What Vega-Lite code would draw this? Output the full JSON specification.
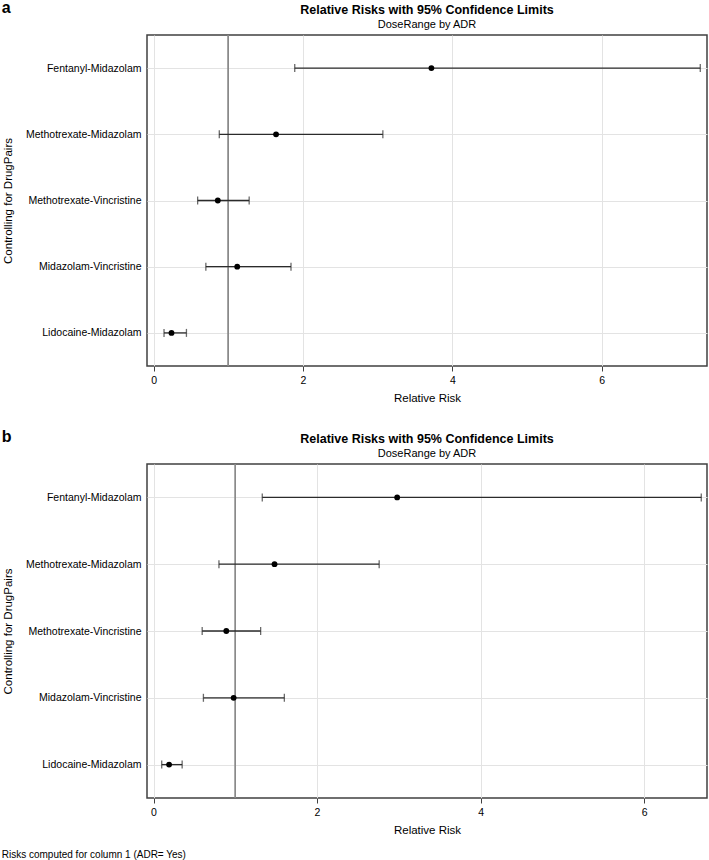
{
  "$schema": "https://vega.github.io/schema/vega-lite/v6.json",
  "padding": {"left": 1, "top": 0, "right": 1, "bottom": 0},
  "background": "white",
  "datasets": {
    "a": [
      {"pair": "Fentanyl-Midazolam", "rr": 3.72, "lower": 1.89, "upper": 7.32},
      {"pair": "Methotrexate-Midazolam", "rr": 1.64, "lower": 0.88, "upper": 3.07},
      {"pair": "Methotrexate-Vincristine", "rr": 0.86, "lower": 0.59, "upper": 1.28},
      {"pair": "Midazolam-Vincristine", "rr": 1.12, "lower": 0.70, "upper": 1.84},
      {"pair": "Lidocaine-Midazolam", "rr": 0.24, "lower": 0.14, "upper": 0.44}
    ],
    "b": [
      {"pair": "Fentanyl-Midazolam", "rr": 2.98, "lower": 1.33, "upper": 6.70},
      {"pair": "Methotrexate-Midazolam", "rr": 1.48, "lower": 0.80, "upper": 2.76},
      {"pair": "Methotrexate-Vincristine", "rr": 0.89, "lower": 0.595, "upper": 1.31},
      {"pair": "Midazolam-Vincristine", "rr": 0.98, "lower": 0.61, "upper": 1.60},
      {"pair": "Lidocaine-Midazolam", "rr": 0.19, "lower": 0.10, "upper": 0.35}
    ]
  },
  "title": {
    "text": "Risks computed for column 1 (ADR= Yes)",
    "orient": "bottom",
    "anchor": "start",
    "frame": "bounds",
    "fontSize": 10,
    "fontWeight": "normal",
    "font": "Liberation Sans",
    "color": "#000000",
    "offset": 13
  },
  "spacing": 24,
  "config": {
    "font": "Liberation Sans",
    "view": {"stroke": "#404040", "strokeWidth": 1.5},
    "axis": {
      "labelFont": "Liberation Sans",
      "titleFont": "Liberation Sans",
      "labelFontSize": 10.5,
      "titleFontSize": 11.5,
      "titleFontWeight": "normal",
      "labelColor": "#000000",
      "titleColor": "#000000",
      "gridColor": "#e3e3e3",
      "gridWidth": 1,
      "domain": false
    }
  },
  "vconcat": [
    {
      "title": {"text": "a", "anchor": "start", "frame": "bounds", "fontSize": 16, "fontWeight": "bold", "font": "Liberation Sans", "offset": -13},
      "vconcat": [
        {
          "data": {"name": "a"},
          "width": 560,
          "height": 331,
          "title": {
            "text": "Relative Risks with 95% Confidence Limits",
            "subtitle": "DoseRange by ADR",
            "anchor": "middle",
            "frame": "group",
            "fontSize": 12.5,
            "fontWeight": "bold",
            "subtitleFontSize": 11,
            "subtitleColor": "#000000",
            "subtitlePadding": 2,
            "offset": 5,
            "font": "Liberation Sans",
            "subtitleFont": "Liberation Sans"
          },
          "encoding": {
            "y": {
              "field": "pair",
              "type": "nominal",
              "sort": null,
              "scale": {"type": "point", "padding": 0.5},
              "axis": {"title": "Controlling for DrugPairs", "ticks": false, "labelPadding": 6, "titlePadding": 12, "grid": true}
            }
          },
          "layer": [
            {
              "mark": {"type": "rule", "color": "#8a8a8a", "strokeWidth": 1},
              "encoding": {"x": {"datum": 1}, "y": null}
            },
            {
              "mark": {"type": "rule", "color": "#2b2b2b", "strokeWidth": 1.3},
              "encoding": {
                "x": {
                  "field": "lower",
                  "type": "quantitative",
                  "scale": {"domain": [-0.088, 7.41], "nice": false, "zero": false},
                  "axis": {"title": "Relative Risk", "values": [0, 2, 4, 6], "format": "d", "tickColor": "#404040", "tickSize": 5, "labelPadding": 4, "titlePadding": 7, "grid": true}
                },
                "x2": {"field": "upper"}
              }
            },
            {
              "mark": {"type": "tick", "orient": "vertical", "size": 8, "thickness": 1.3, "color": "#2b2b2b"},
              "encoding": {"x": {"field": "lower", "type": "quantitative"}}
            },
            {
              "mark": {"type": "tick", "orient": "vertical", "size": 8, "thickness": 1.3, "color": "#2b2b2b"},
              "encoding": {"x": {"field": "upper", "type": "quantitative"}}
            },
            {
              "mark": {"type": "point", "filled": true, "size": 34, "color": "#000000", "opacity": 1},
              "encoding": {"x": {"field": "rr", "type": "quantitative"}}
            }
          ]
        }
      ]
    },
    {
      "title": {"text": "b", "anchor": "start", "frame": "bounds", "fontSize": 16, "fontWeight": "bold", "font": "Liberation Sans", "offset": -13},
      "vconcat": [
        {
          "data": {"name": "b"},
          "width": 560,
          "height": 334,
          "title": {
            "text": "Relative Risks with 95% Confidence Limits",
            "subtitle": "DoseRange by ADR",
            "anchor": "middle",
            "frame": "group",
            "fontSize": 12.5,
            "fontWeight": "bold",
            "subtitleFontSize": 11,
            "subtitleColor": "#000000",
            "subtitlePadding": 2,
            "offset": 5,
            "font": "Liberation Sans",
            "subtitleFont": "Liberation Sans"
          },
          "encoding": {
            "y": {
              "field": "pair",
              "type": "nominal",
              "sort": null,
              "scale": {"type": "point", "padding": 0.5},
              "axis": {"title": "Controlling for DrugPairs", "ticks": false, "labelPadding": 6, "titlePadding": 12, "grid": true}
            }
          },
          "layer": [
            {
              "mark": {"type": "rule", "color": "#8a8a8a", "strokeWidth": 1},
              "encoding": {"x": {"datum": 1}, "y": null}
            },
            {
              "mark": {"type": "rule", "color": "#2b2b2b", "strokeWidth": 1.3},
              "encoding": {
                "x": {
                  "field": "lower",
                  "type": "quantitative",
                  "scale": {"domain": [-0.08, 6.77], "nice": false, "zero": false},
                  "axis": {"title": "Relative Risk", "values": [0, 2, 4, 6], "format": "d", "tickColor": "#404040", "tickSize": 5, "labelPadding": 4, "titlePadding": 7, "grid": true}
                },
                "x2": {"field": "upper"}
              }
            },
            {
              "mark": {"type": "tick", "orient": "vertical", "size": 8, "thickness": 1.3, "color": "#2b2b2b"},
              "encoding": {"x": {"field": "lower", "type": "quantitative"}}
            },
            {
              "mark": {"type": "tick", "orient": "vertical", "size": 8, "thickness": 1.3, "color": "#2b2b2b"},
              "encoding": {"x": {"field": "upper", "type": "quantitative"}}
            },
            {
              "mark": {"type": "point", "filled": true, "size": 34, "color": "#000000", "opacity": 1},
              "encoding": {"x": {"field": "rr", "type": "quantitative"}}
            }
          ]
        }
      ]
    }
  ]
}
